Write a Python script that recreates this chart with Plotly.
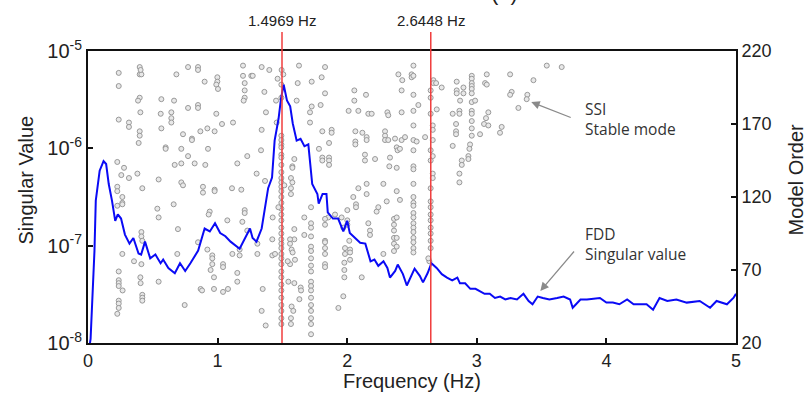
import plotly.graph_objects as go

# FDD first singular value (frequency in Hz, singular value)
fdd_freq = [0.01, 0.02, 0.05, 0.06, 0.09, 0.12, 0.14, 0.16, 0.185, 0.21, 0.23, 0.255, 0.285, 0.32, 0.35,
            0.39, 0.41, 0.44, 0.48, 0.52, 0.56, 0.58, 0.62, 0.67, 0.71, 0.75, 0.79, 0.85, 0.90, 0.94,
            0.98, 1.02, 1.06, 1.10, 1.17, 1.21, 1.25, 1.27, 1.30, 1.34, 1.37, 1.39, 1.42, 1.44, 1.47,
            1.49, 1.51, 1.535, 1.56, 1.58, 1.61, 1.64, 1.67, 1.70, 1.73, 1.77, 1.78, 1.81, 1.84, 1.85,
            1.89, 1.93, 1.97, 2.00, 2.02, 2.06, 2.10, 2.14, 2.18, 2.21, 2.24, 2.28, 2.31, 2.33, 2.37,
            2.39, 2.43, 2.46, 2.50, 2.52, 2.56, 2.585, 2.62, 2.65, 2.69, 2.73, 2.77, 2.81, 2.85, 2.87,
            2.91, 2.95, 2.99, 3.02, 3.06, 3.10, 3.14, 3.18, 3.22, 3.26, 3.31, 3.36, 3.40, 3.43, 3.47,
            3.51, 3.56, 3.62, 3.67, 3.72, 3.74, 3.80, 3.85, 3.95, 4.00, 4.05, 4.10, 4.16, 4.21, 4.31,
            4.36, 4.41, 4.47, 4.54, 4.62, 4.72, 4.80, 4.85, 4.93, 4.98, 5.00]
fdd_sv = [0.9e-8, 1.1e-8, 8.9e-8, 2.9e-7, 5.9e-7, 7.4e-7, 6.9e-7, 4.3e-7, 2.9e-7, 1.8e-7, 2.1e-7, 1.9e-7, 1.3e-7, 1.05e-7, 1.2e-7,
          8.3e-8, 8.1e-8, 1.1e-7, 7.4e-8, 8.1e-8, 6.6e-8, 7.2e-8, 5.9e-8, 5.2e-8, 6.6e-8, 5.5e-8, 6.6e-8, 8.9e-8, 1.5e-7, 1.4e-7,
          1.7e-7, 1.35e-7, 1.25e-7, 1.1e-7, 9.3e-8, 1.2e-7, 1.5e-7, 1.2e-7, 1.1e-7, 1.5e-7, 2.7e-7, 3.9e-7, 5.0e-7, 1.2e-6, 2.0e-6,
          3.3e-6, 4.5e-6, 3.1e-6, 2.7e-6, 1.8e-6, 1.2e-6, 1.25e-6, 1.05e-6, 1.1e-6, 4.3e-7, 3.4e-7, 2.7e-7, 3.4e-7, 3.4e-7, 2.2e-7,
          1.9e-7, 1.9e-7, 1.4e-7, 1.8e-7, 1.35e-7, 1.2e-7, 1.07e-7, 1.05e-7, 6.9e-8, 7.2e-8, 6.2e-8, 6.9e-8, 5.9e-8, 4.7e-8, 5.5e-8,
          6.4e-8, 5.1e-8, 3.9e-8, 5.1e-8, 5.8e-8, 4.9e-8, 4.2e-8, 5.2e-8, 6.6e-8, 5.9e-8, 5.1e-8, 4.7e-8, 4.4e-8, 4.7e-8, 4.1e-8,
          4.1e-8, 3.6e-8, 3.6e-8, 3.4e-8, 3.2e-8, 3.2e-8, 2.9e-8, 3.0e-8, 2.8e-8, 2.9e-8, 2.8e-8, 3.2e-8, 2.7e-8, 2.5e-8, 3.0e-8,
          2.9e-8, 2.8e-8, 2.9e-8, 3.0e-8, 2.8e-8, 2.3e-8, 2.8e-8, 2.8e-8, 2.9e-8, 2.6e-8, 2.6e-8, 2.5e-8, 2.8e-8, 2.5e-8, 2.5e-8,
          2.2e-8, 2.9e-8, 2.7e-8, 2.8e-8, 2.6e-8, 2.7e-8, 2.3e-8, 2.7e-8, 2.5e-8, 2.9e-8, 3.2e-8]

# SSI stable poles (frequency in Hz, model order)
ssi_freq = [
    0.237, 0.237, 0.399, 0.399, 0.412, 0.406, 0.772, 0.849, 0.849, 1.196, 1.196, 1.260, 1.209, 1.209, 1.209, 1.201,
    0.682, 0.900, 0.998, 0.998, 0.990, 1.003, 0.399, 0.386, 0.404, 0.566, 0.664, 0.772, 0.849, 0.849, 0.990, 0.561,
    0.643, 0.643, 0.643, 0.237, 0.316, 0.316, 0.566, 1.034, 1.119, 0.921, 0.867, 0.977, 0.399, 0.399, 0.391, 0.733,
    0.802, 0.802, 0.599, 0.599, 0.720, 0.926, 0.772, 1.229, 0.226, 0.669, 0.720, 0.823, 0.905, 1.152, 0.278, 0.257,
    0.316, 0.381, 0.545, 0.720, 0.733, 0.887, 0.887, 0.977, 0.977, 1.111, 1.183, 0.226, 0.226, 0.265, 0.265, 0.265,
    0.226, 0.419, 0.535, 0.545, 0.661, 0.694, 0.939, 0.931, 1.075, 1.209, 1.209, 1.191, 0.849, 0.921, 0.959, 0.959,
    0.959, 0.946, 1.042, 1.042, 0.972, 0.972, 1.042, 1.080, 1.114, 1.170, 1.152, 1.152, 0.412, 0.412, 0.419, 0.265,
    0.355, 0.412, 0.237, 0.237, 0.237, 0.237, 0.267, 0.237, 0.237, 0.237, 0.226, 0.404, 0.406, 0.419, 0.419, 0.419,
    0.545, 0.689, 0.746, 0.869, 0.880, 1.229, 1.170,
    1.271, 1.340, 1.399, 1.494, 1.507, 1.463, 1.628, 1.726, 1.618, 1.829, 1.803, 1.361, 1.451, 1.610, 1.726, 1.795,
    1.713, 1.713, 1.829, 2.055, 2.055, 2.145, 2.011, 2.086, 2.163, 2.189, 2.310, 2.317, 2.420, 2.395, 2.425, 2.420,
    2.497, 2.497, 1.373, 1.340, 1.456,
    1.492, 1.492, 1.492, 1.492, 1.492, 1.492, 1.492, 1.492, 1.492, 1.492, 1.492, 1.492, 1.492, 1.492, 1.492, 1.492,
    1.492, 1.492, 1.492, 1.492, 1.492, 1.492, 1.492, 1.492, 1.492, 1.492, 1.492, 1.492, 1.492, 1.492, 1.492, 1.492,
    1.492, 1.492, 1.492, 1.492,
    1.808, 1.880, 1.880, 1.860, 1.782, 1.808, 1.808, 1.860, 1.860, 1.860, 1.592, 1.577, 1.577, 1.566, 1.577, 1.566,
    1.566, 1.515, 1.366, 1.335, 1.301, 2.063, 2.063, 2.063, 2.117, 2.150, 2.150, 2.137, 2.137, 2.215, 2.292, 2.292,
    2.292, 2.317, 2.330, 2.325, 2.369, 2.382, 2.389, 2.420, 2.407, 2.446, 2.382, 2.382, 2.407, 2.305, 2.279, 2.150,
    2.150, 2.086, 2.047, 2.068, 2.068, 2.001, 2.001, 2.001, 1.970, 1.957, 1.906, 1.854, 1.721, 1.669, 1.721, 1.721,
    1.721, 1.721, 1.721, 1.721, 1.721, 1.721, 1.721, 1.721, 1.721, 1.721, 1.721, 1.721, 1.721, 1.721, 1.721,
    1.669, 1.592, 1.592, 1.559, 1.559, 1.571, 1.579, 1.597, 1.559, 1.541, 1.422, 1.422, 1.443, 1.307, 1.307, 1.425,
    1.469, 1.829, 1.829, 1.829, 1.829, 1.829, 1.829, 1.829, 1.829, 1.983, 1.983, 1.978, 1.978, 1.978, 1.970, 1.932,
    2.022, 2.022, 2.016, 2.022, 2.112, 2.176, 2.176, 2.227, 2.240, 2.163, 2.279, 2.361, 2.361, 2.361, 2.361, 2.361,
    2.361, 2.382, 2.382, 2.382, 1.546, 1.592, 1.641, 1.644, 1.631, 1.571, 1.584, 1.566, 1.566, 1.348, 1.340, 1.371,
    2.511, 2.511, 2.511, 2.511, 2.511, 2.511, 2.511, 2.511, 2.511, 2.511, 2.511, 2.511, 2.511, 2.511, 2.511, 2.511,
    2.511, 2.511, 2.511, 2.511, 2.511, 2.511, 2.549, 2.601, 2.536,
    2.665, 2.665, 2.644, 2.644, 2.644, 2.660, 2.660, 2.660, 2.644, 2.660, 2.644, 2.660, 2.660, 2.644, 2.644, 2.644,
    2.644, 2.644, 2.644, 2.644, 2.644, 2.644, 2.634, 2.626, 2.686, 2.691, 2.729,
    2.845, 2.845, 2.845, 2.897, 2.897, 2.871, 2.866, 2.866, 2.814, 2.840, 2.840, 2.840, 2.814, 2.884, 2.884, 2.866,
    2.866, 2.961, 2.961, 2.961, 2.961, 2.961, 2.961, 2.961, 2.961, 2.961, 2.961, 2.961, 2.961, 2.948, 2.943, 2.935,
    2.935, 2.987, 3.025, 3.064, 3.077, 3.077, 3.056, 3.089, 3.071, 3.089, 3.179, 3.192, 3.257, 3.269, 3.257, 3.321,
    3.390, 3.385, 3.437, 3.540, 3.655]
ssi_order = [
    205, 196, 209, 204, 204, 207, 209, 209, 207, 210, 203, 203, 198, 193, 188, 186,
    204, 199, 202, 199, 197, 194, 188, 186, 178, 187, 186, 181, 183, 181, 177, 177,
    178, 174, 171, 173, 171, 168, 167, 170, 171, 167, 165, 165, 165, 162, 157, 163,
    160, 159, 154, 153, 153, 153, 148, 148, 144, 142, 143, 143, 142, 143, 140, 135,
    133, 136, 132, 130, 128, 127, 123, 125, 124, 126, 125, 127, 124, 120, 116, 115,
    114, 126, 112, 106, 115, 98, 110, 108, 104, 111, 109, 103, 89, 84, 80, 78,
    74, 70, 74, 72, 65, 57, 55, 57, 81, 80, 68, 62, 96, 93, 90, 81,
    76, 74, 69, 63, 61, 59, 56, 49, 47, 44, 40, 65, 61, 53, 51, 49,
    62, 81, 46, 57, 56, 97, 84,
    203, 209, 207, 207, 204, 201, 210, 199, 198, 209, 202, 192, 186, 186, 182, 183,
    178, 171, 191, 193, 186, 190, 179, 179, 177, 177, 178, 176, 178, 204, 200, 193,
    204, 202, 178, 166, 171,
    162, 159, 156, 154, 149, 147, 142, 137, 133, 130, 127, 124, 120, 116, 112, 108,
    104, 99, 95, 91, 88, 85, 81, 78, 74, 69, 65, 60, 56, 51, 46, 42,
    37, 33, 197, 188,
    165, 166, 164, 157, 153, 147, 145, 147, 145, 142, 146, 141, 140, 133, 130, 126,
    122, 128, 131, 152, 136, 165, 158, 156, 164, 161, 159, 149, 145, 146, 165, 162,
    159, 159, 147, 141, 160, 154, 152, 159, 153, 161, 140, 124, 118, 117, 129, 129,
    122, 126, 120, 115, 113, 111, 104, 101, 99, 106, 108, 106, 113, 106, 102, 99,
    93, 86, 83, 78, 73, 69, 62, 59, 56, 51, 46, 42, 37, 33, 26,
    94, 98, 91, 91, 88, 84, 82, 77, 74, 76, 91, 80, 81, 88, 81, 106,
    113, 105, 101, 90, 89, 85, 81, 74, 72, 85, 81, 75, 70, 65, 52, 44,
    84, 82, 90, 77, 65, 97, 94, 110, 113, 102, 81, 105, 101, 97, 92, 88,
    83, 106, 92, 86, 62, 61, 58, 56, 50, 45, 42, 37, 33, 57, 42, 32,
    210, 203, 190, 179, 169, 159, 152, 141, 139, 129, 120, 116, 114, 109, 106, 102,
    99, 96, 92, 89, 85, 82, 183, 161, 158,
    200, 198, 193, 188, 177, 169, 166, 159, 152, 148, 145, 136, 133, 126, 117, 113,
    108, 104, 99, 95, 90, 85, 76, 78, 198, 180, 195,
    199, 193, 191, 195, 191, 186, 179, 177, 177, 170, 165, 163, 155, 145, 142, 136,
    130, 203, 201, 198, 196, 194, 191, 185, 179, 177, 172, 167, 162, 156, 153, 148,
    146, 186, 163, 198, 197, 204, 170, 178, 174, 169, 164, 168, 204, 192, 190, 181,
    190, 187, 200, 210, 209]

mode_freqs = [1.4969, 2.6448]
mode_labels = ["1.4969 Hz", "2.6448 Hz"]

x_ticks = [0, 1, 2, 3, 4, 5]
sv_ticks = [1e-8, 1e-7, 1e-6, 1e-5]
sv_ticktext = ["10<sup>-8</sup>", "10<sup>-7</sup>", "10<sup>-6</sup>", "10<sup>-5</sup>"]
order_ticks = [20, 70, 120, 170, 220]

AX_FONT = "Liberation Sans, Arial, sans-serif"
NOTE_FONT = "Open Sans, Noto Sans, sans-serif"

fig = go.Figure()
fig.add_trace(go.Scatter(
    x=ssi_freq, y=ssi_order, mode="markers", yaxis="y",
    marker=dict(symbol="circle", size=5, color="rgba(232,232,232,1)",
                line=dict(color="#999999", width=1)),
    showlegend=False, hoverinfo="x+y"))
fig.add_trace(go.Scatter(
    x=fdd_freq, y=fdd_sv, mode="lines", yaxis="y2",
    line=dict(color="#0a0af5", width=2), showlegend=False))

shapes = []
annotations = []
for f, lab in zip(mode_freqs, mode_labels):
    shapes.append(dict(type="line", xref="x", yref="paper", x0=f, x1=f, y0=0, y1=1.065,
                       line=dict(color="#f03c3c", width=1.5), layer="above"))
    annotations.append(dict(text=lab, xref="x", yref="paper", x=f, y=1.106, showarrow=False,
                            font=dict(family=AX_FONT, size=15, color="#222"),
                            xanchor="center", yanchor="middle"))

annotations += [
    dict(text="(a)", xref="paper", yref="paper", x=0.642, y=1.20, showarrow=False,
         font=dict(family=AX_FONT, size=22, color="#222"), yanchor="middle"),
    dict(text="SSI<br>Stable mode", xref="paper", yref="paper", x=0.764, y=0.767,
         xanchor="left", yanchor="middle", align="left", showarrow=False,
         font=dict(family=NOTE_FONT, size=15.5, color="#333")),
    dict(text="FDD<br>Singular value", xref="paper", yref="paper", x=0.764, y=0.34,
         xanchor="left", yanchor="middle", align="left", showarrow=False,
         font=dict(family=NOTE_FONT, size=15.5, color="#333")),
    dict(text="", xref="paper", yref="paper", x=0.684, y=0.825, ax=41, ay=16,
         showarrow=True, arrowhead=2, arrowsize=1.3, arrowwidth=1.3, arrowcolor="#8a8a8a"),
    dict(text="", xref="paper", yref="paper", x=0.698, y=0.178, ax=35, ay=-41,
         showarrow=True, arrowhead=2, arrowsize=1.3, arrowwidth=1.3, arrowcolor="#8a8a8a"),
    dict(text="Frequency (Hz)", xref="paper", yref="paper", x=0.5, y=-0.13, showarrow=False,
         font=dict(family=AX_FONT, size=20, color="#222"), yanchor="middle"),
    dict(text="Singular Value", xref="paper", yref="paper", x=-0.0957, y=0.56, showarrow=False,
         textangle=-90, font=dict(family=AX_FONT, size=20, color="#222"), xanchor="center"),
    dict(text="Model Order", xref="paper", yref="paper", x=1.094, y=0.56, showarrow=False,
         textangle=-90, font=dict(family=AX_FONT, size=20, color="#222"), xanchor="center"),
]

fig.update_layout(
    width=810, height=399,
    margin=dict(l=88, r=74, t=51, b=56),
    paper_bgcolor="white", plot_bgcolor="white",
    shapes=shapes, annotations=annotations,
    xaxis=dict(range=[0, 5], tickvals=x_ticks, ticks="inside", ticklen=5, tickwidth=1.5,
               tickcolor="#111", showline=True, linecolor="#111", linewidth=2, mirror=True,
               showgrid=False, zeroline=False,
               tickfont=dict(family=AX_FONT, size=18, color="#222")),
    yaxis=dict(range=[20, 220], tickvals=order_ticks, side="right", ticks="inside", ticklen=5,
               tickwidth=1.5, tickcolor="#111", showline=True, linecolor="#111", linewidth=2,
               showgrid=False, zeroline=False,
               tickfont=dict(family=AX_FONT, size=18, color="#222")),
    yaxis2=dict(type="log", range=[-8, -5], overlaying="y", side="left",
                tickvals=sv_ticks, ticktext=sv_ticktext, ticks="inside", ticklen=5, tickwidth=1.5,
                tickcolor="#111", showline=True, linecolor="#111", linewidth=2,
                showgrid=False, zeroline=False,
                tickfont=dict(family=AX_FONT, size=20, color="#222")),
)

fig.write_html("out.html")
